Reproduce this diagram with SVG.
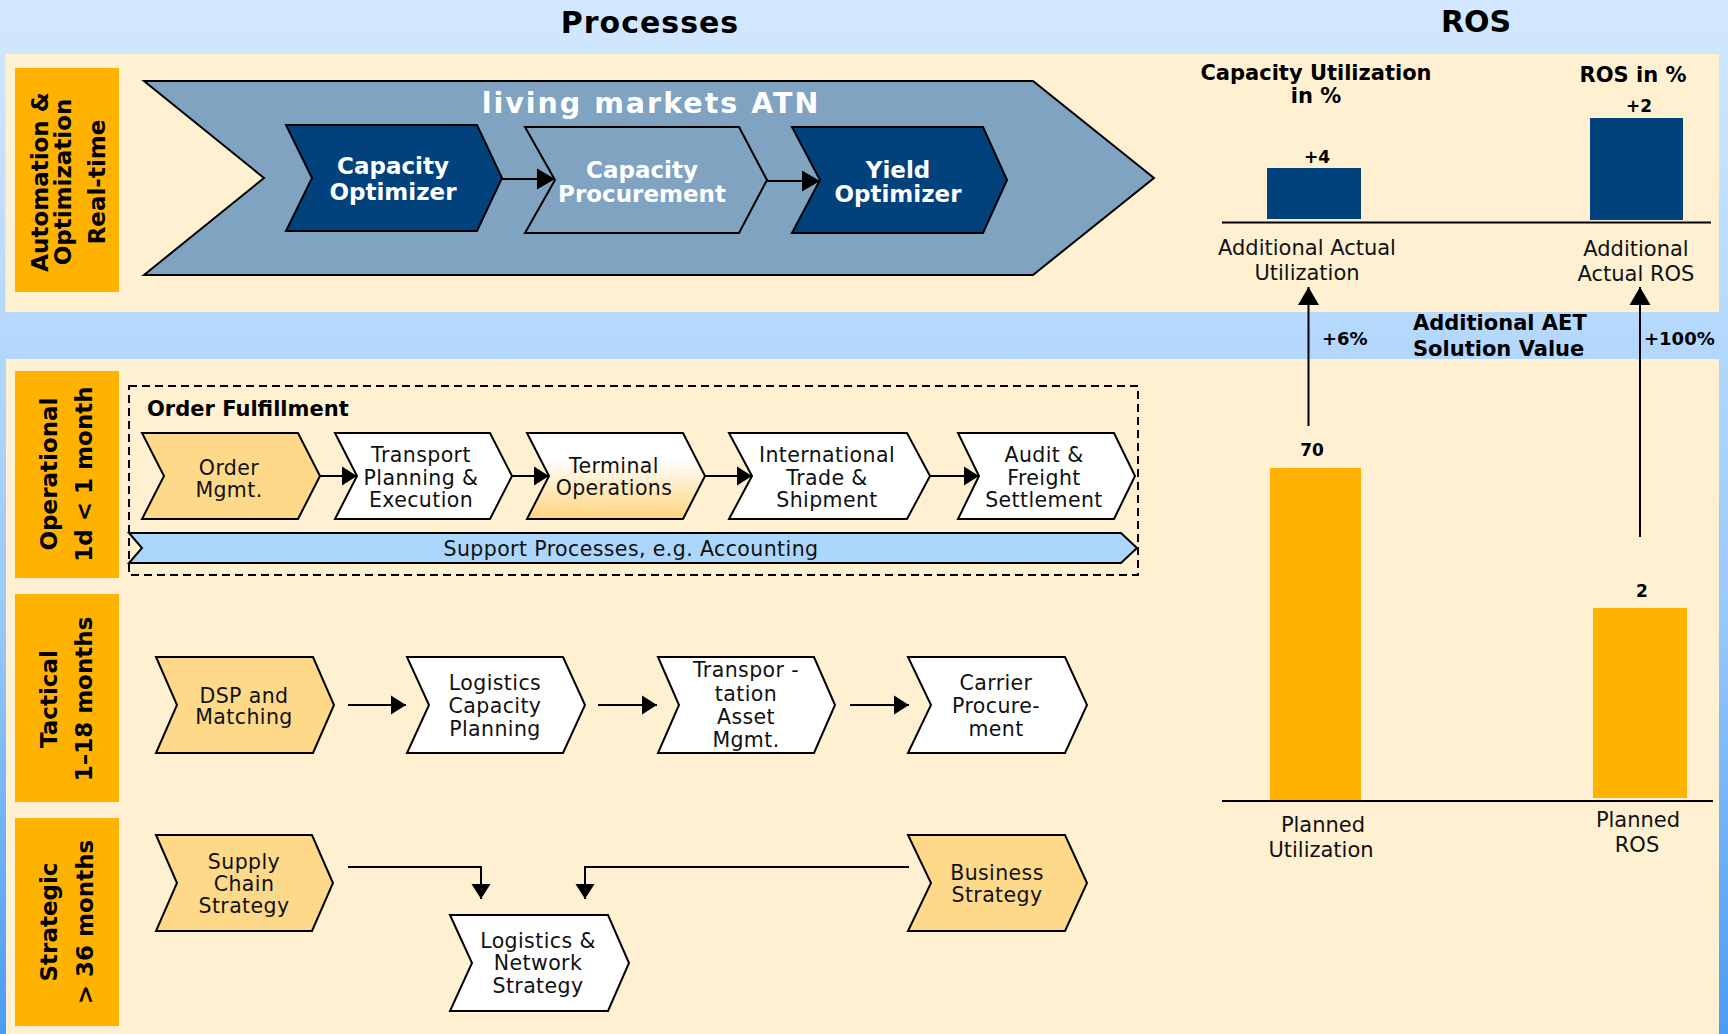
<svg xmlns="http://www.w3.org/2000/svg" width="1728" height="1034" viewBox="0 0 1728 1034">
<defs>
<linearGradient id="bg" x1="0" y1="0" x2="0" y2="1">
<stop offset="0" stop-color="#d3e8ff"/>
<stop offset="0.33" stop-color="#b4d8fd"/>
<stop offset="0.6" stop-color="#98c8fb"/>
<stop offset="1" stop-color="#4a9cf4"/>
</linearGradient>
<linearGradient id="tg" x1="0" y1="0" x2="0" y2="1">
<stop offset="0" stop-color="#ffffff"/>
<stop offset="0.3" stop-color="#ffffff"/>
<stop offset="1" stop-color="#ffd47e"/>
</linearGradient>
<marker id="ah" markerUnits="userSpaceOnUse" markerWidth="16" markerHeight="20" refX="15" refY="10" orient="auto">
<path d="M0,0.5 L15,10 L0,19.5 Z" fill="#000"/>
</marker>
<marker id="ahL" markerUnits="userSpaceOnUse" markerWidth="19" markerHeight="22" refX="18" refY="11" orient="auto">
<path d="M0,0.5 L18,11 L0,21.5 Z" fill="#000"/>
</marker>
<style>
text{font-family:'DejaVu Sans',Verdana,sans-serif}
.lbl{font-size:23px;font-weight:bold;fill:#000;text-anchor:middle}
.ttl{font-size:30px;font-weight:bold;fill:#000;text-anchor:middle}
.wt{font-size:23px;font-weight:bold;fill:#fff;text-anchor:middle}
.bx{font-size:20.5px;letter-spacing:0.4px;fill:#111;text-anchor:middle}
.sb{font-size:21px;font-weight:bold;fill:#000}
.rg{font-size:21px;fill:#111;text-anchor:middle}
.num{font-size:17px;font-weight:bold;fill:#000;text-anchor:middle}
.pct{font-size:18px;font-weight:bold;fill:#000}
.orange{fill:#ffb300}
.shape{stroke:#000;stroke-width:2;stroke-linejoin:miter}
.lo{fill:#ffd98a}
.wh{fill:#ffffff}
.dk{fill:#02427c}
.st{fill:#7fa3c1}
.conn{fill:none;stroke:#000;stroke-width:2}
.axis{stroke:#000;stroke-width:2}
</style>
</defs>

<rect x="0" y="0" width="1728" height="1034" fill="url(#bg)"/>
<rect x="5.5" y="54" width="1713.5" height="258" fill="#fff0d2"/>
<rect x="6" y="359" width="1713" height="675" fill="#fff0d2"/>

<g id="titles">
<text class="ttl" x="650" y="33" style="letter-spacing:1px">Processes</text>
<text class="ttl" x="1476" y="32">ROS</text>
</g>

<g id="label-realtime">
<rect class="orange" x="15" y="68" width="104" height="224"/>
<text class="lbl" transform="translate(48,182) rotate(-90)">Automation &amp;</text>
<text class="lbl" transform="translate(71,182) rotate(-90)">Optimization</text>
<text class="lbl" transform="translate(105,182) rotate(-90)">Real-time</text>
</g>
<g id="label-operational">
<rect class="orange" x="15" y="371" width="104" height="207"/>
<text class="lbl" transform="translate(57,474) rotate(-90)">Operational</text>
<text class="lbl" transform="translate(92,474) rotate(-90)">1d &lt; 1 month</text>
</g>
<g id="label-tactical">
<rect class="orange" x="15" y="594" width="104" height="208"/>
<text class="lbl" transform="translate(57,699) rotate(-90)">Tactical</text>
<text class="lbl" transform="translate(92,699) rotate(-90)">1–18 months</text>
</g>
<g id="label-strategic">
<rect class="orange" x="15" y="818" width="104" height="208"/>
<text class="lbl" transform="translate(57,922) rotate(-90)">Strategic</text>
<text class="lbl" transform="translate(93,922) rotate(-90)">&gt; 36 months</text>
</g>

<g id="living-markets-atn">
<polygon class="shape st" points="144,81 1033,81 1154,178 1033,275 144,275 264,178"/>
<text x="651" y="113" style="font-size:28.5px;font-weight:bold;fill:#fff;text-anchor:middle;letter-spacing:2px">living markets ATN</text>
</g>
<g id="capacity-optimizer">
<polygon class="shape dk" points="286,125 477,125 502,178 477,231 286,231 312,178"/>
<text class="wt" x="393" y="174">Capacity</text>
<text class="wt" x="393" y="200">Optimizer</text>
</g>
<g id="capacity-procurement">
<polygon class="shape st" points="525,127 739,127 767,180 739,233 525,233 555,180"/>
<text class="wt" x="642" y="178">Capacity</text>
<text class="wt" x="642" y="202">Procurement</text>
</g>
<g id="yield-optimizer">
<polygon class="shape dk" points="792,127 983,127 1007,180 983,233 792,233 820,180"/>
<text class="wt" x="898" y="178">Yield</text>
<text class="wt" x="898" y="202">Optimizer</text>
</g>

<g id="order-fulfillment">
<rect x="129" y="386" width="1009" height="189" fill="none" stroke="#000" stroke-width="2" stroke-dasharray="8,5"/>
<text class="sb" x="147" y="416">Order Fulfillment</text>
</g>
<g id="order-mgmt">
<polygon class="shape lo" points="142,433 298,433 320,476 298,519 142,519 164,476"/>
<text class="bx" x="229" y="475">Order</text>
<text class="bx" x="229" y="497">Mgmt.</text>
</g>
<g id="transport-planning">
<polygon class="shape wh" points="335,433 490,433 512,476 490,519 335,519 357,476"/>
<text class="bx" x="421" y="462">Transport</text>
<text class="bx" x="421" y="484.5">Planning &amp;</text>
<text class="bx" x="421" y="507">Execution</text>
</g>
<g id="terminal-operations">
<polygon class="shape" fill="url(#tg)" points="527,433 683,433 705,476 683,519 527,519 549,476"/>
<text class="bx" x="614" y="473">Terminal</text>
<text class="bx" x="614" y="495">Operations</text>
</g>
<g id="international-trade">
<polygon class="shape wh" points="729,433 907,433 930,476 907,519 729,519 752,476"/>
<text class="bx" x="827" y="462">International</text>
<text class="bx" x="827" y="484.5">Trade &amp;</text>
<text class="bx" x="827" y="507">Shipment</text>
</g>
<g id="audit-freight">
<polygon class="shape wh" points="958,433 1114,433 1135,476 1114,519 958,519 979,476"/>
<text class="bx" x="1044" y="462">Audit &amp;</text>
<text class="bx" x="1044" y="484.5">Freight</text>
<text class="bx" x="1044" y="507">Settlement</text>
</g>
<g id="support-processes">
<polygon points="129,533 1121,533 1137,548 1121,563 129,563 142,548" fill="#acd6fb" stroke="#000" stroke-width="2"/>
<text class="bx" x="631" y="556">Support Processes, e.g. Accounting</text>
</g>

<g id="dsp-matching">
<polygon class="shape lo" points="156,657 313,657 334,705 313,753 156,753 177,705"/>
<text class="bx" x="244" y="702.5">DSP and</text>
<text class="bx" x="244" y="724">Matching</text>
</g>
<g id="logistics-capacity-planning">
<polygon class="shape wh" points="407,657 563,657 585,705 563,753 407,753 429,705"/>
<text class="bx" x="495" y="690">Logistics</text>
<text class="bx" x="495" y="713">Capacity</text>
<text class="bx" x="495" y="736">Planning</text>
</g>
<g id="transportation-asset-mgmt">
<polygon class="shape wh" points="658,657 814,657 835,705 814,753 658,753 679,705"/>
<text class="bx" x="746" y="677">Transpor -</text>
<text class="bx" x="746" y="700.5">tation</text>
<text class="bx" x="746" y="723.5">Asset</text>
<text class="bx" x="746" y="746.5">Mgmt.</text>
</g>
<g id="carrier-procurement">
<polygon class="shape wh" points="908,657 1065,657 1087,705 1065,753 908,753 931,705"/>
<text class="bx" x="996" y="690">Carrier</text>
<text class="bx" x="996" y="713">Procure-</text>
<text class="bx" x="996" y="736">ment</text>
</g>

<g id="supply-chain-strategy">
<polygon class="shape lo" points="156,835 312,835 333,883 312,931 156,931 177,883"/>
<text class="bx" x="244" y="869">Supply</text>
<text class="bx" x="244" y="890.5">Chain</text>
<text class="bx" x="244" y="913">Strategy</text>
</g>
<g id="logistics-network-strategy">
<polygon class="shape wh" points="450,915 608,915 629,963 608,1011 450,1011 472,963"/>
<text class="bx" x="538" y="948">Logistics &amp;</text>
<text class="bx" x="538" y="970">Network</text>
<text class="bx" x="538" y="993">Strategy</text>
</g>
<g id="business-strategy">
<polygon class="shape lo" points="908,835 1065,835 1087,883 1065,931 908,931 931,883"/>
<text class="bx" x="997" y="880">Business</text>
<text class="bx" x="997" y="902">Strategy</text>
</g>

<g id="ros-chart">
<text class="sb" x="1316" y="80" text-anchor="middle">Capacity Utilization</text>
<text class="sb" x="1316" y="103" text-anchor="middle">in %</text>
<text class="sb" x="1633" y="82" text-anchor="middle">ROS in %</text>
<rect class="dk" x="1267" y="168" width="94" height="51"/>
<rect class="dk" x="1590" y="118" width="93" height="102"/>
<text class="num" x="1317" y="163">+4</text>
<text class="num" x="1639" y="112">+2</text>
<line class="axis" x1="1222" y1="222.5" x2="1711" y2="222.5"/>
<text class="rg" x="1307" y="255">Additional Actual</text>
<text class="rg" x="1307" y="280">Utilization</text>
<text class="rg" x="1636" y="256">Additional</text>
<text class="rg" x="1636" y="281">Actual ROS</text>
<text class="pct" x="1322" y="345">+6%</text>
<text class="pct" x="1644" y="345">+100%</text>
<text class="sb" x="1413" y="330">Additional AET</text>
<text class="sb" x="1413" y="356">Solution Value</text>
<rect class="orange" x="1270" y="468" width="91" height="333"/>
<rect class="orange" x="1593" y="608" width="94" height="190"/>
<text class="num" x="1312" y="456">70</text>
<text class="num" x="1642" y="597">2</text>
<line class="axis" x1="1222" y1="801" x2="1713" y2="801"/>
<text class="rg" x="1323" y="832">Planned</text>
<text class="rg" x="1321" y="857">Utilization</text>
<text class="rg" x="1638" y="827">Planned</text>
<text class="rg" x="1637" y="852">ROS</text>
</g>

<g id="connectors">
<path class="conn" d="M502,179 H555" marker-end="url(#ahL)"/>
<path class="conn" d="M767,181 H820" marker-end="url(#ahL)"/>
<path class="conn" d="M320,476 H357" marker-end="url(#ah)"/>
<path class="conn" d="M512,476 H549" marker-end="url(#ah)"/>
<path class="conn" d="M705,476 H752" marker-end="url(#ah)"/>
<path class="conn" d="M930,476 H979" marker-end="url(#ah)"/>
<path class="conn" d="M348,705 H406" marker-end="url(#ah)"/>
<path class="conn" d="M598,705 H657" marker-end="url(#ah)"/>
<path class="conn" d="M850,705 H909" marker-end="url(#ah)"/>
<path class="conn" d="M348,867 H481 V899" marker-end="url(#ah)"/>
<path class="conn" d="M909,867 H585 V899" marker-end="url(#ah)"/>
<path class="conn" d="M1308.5,426 V287" marker-end="url(#ahL)"/>
<path class="conn" d="M1640,537 V287" marker-end="url(#ahL)"/>
</g>
</svg>
